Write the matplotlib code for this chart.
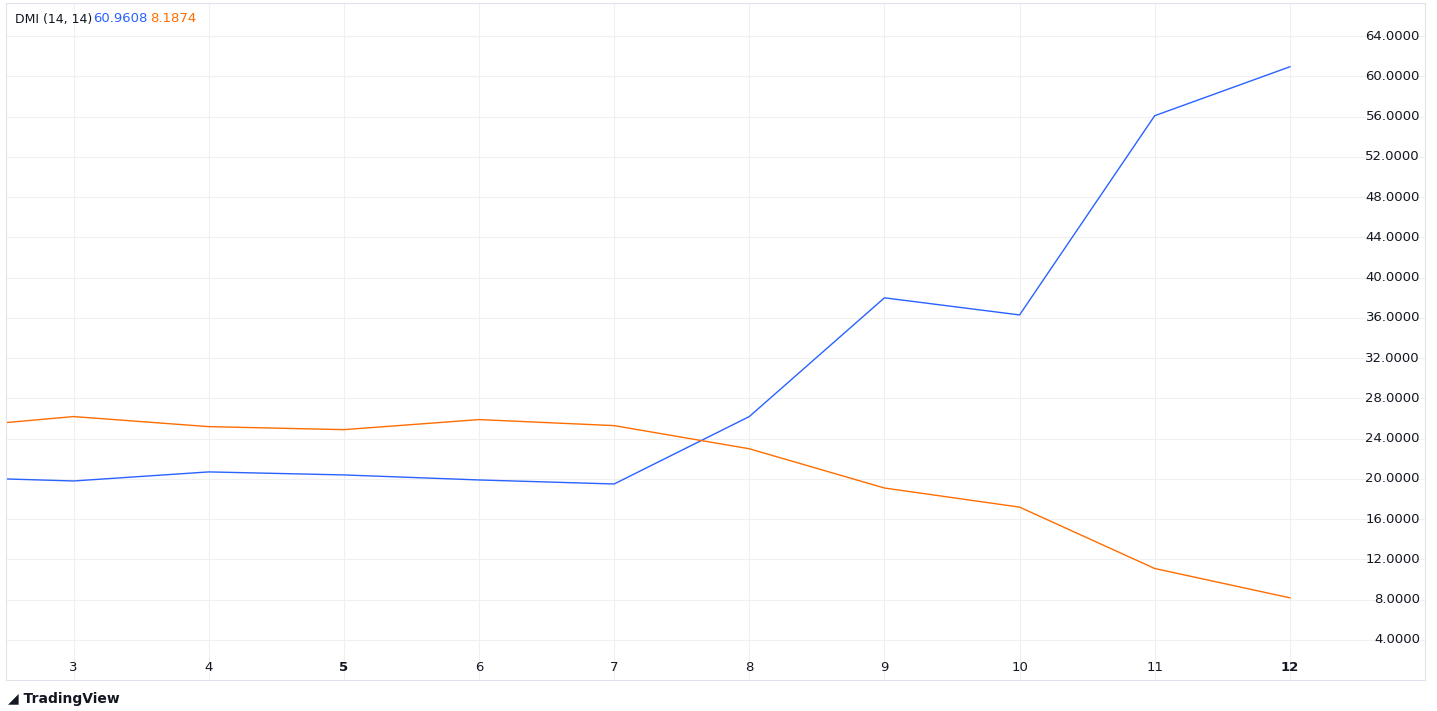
import matplotlib
matplotlib.use("Agg")
import matplotlib.pyplot as plt

x = [2, 3, 4, 5, 6, 7, 8, 9, 10, 11, 12]
plus_di = [20.2, 19.8, 20.7, 20.4, 19.9, 19.5, 26.2, 38.0, 36.3, 56.1, 60.9608]
minus_di = [25.0, 26.2, 25.2, 24.9, 25.9, 25.3, 23.0, 19.1, 17.2, 11.1, 8.1874]
yticks = [4, 8, 12, 16, 20, 24, 28, 32, 36, 40, 44, 48, 52, 56, 60, 64]
xticks = [3, 4, 5, 6, 7, 8, 9, 10, 11, 12]

W, H = 1437, 711
fig = plt.figure(figsize=(W/100, H/100), dpi=100)
ax = fig.add_axes([6/W, 1-680/H, (1425-6)/W, 677/H])
ax.set_xlim(2.5, 13.0)
ax.set_ylim(0.02, 67.3)
for t in yticks:
    ax.axhline(t, color='#f0f0f0', lw=0.8, zorder=0)
for t in xticks:
    ax.axvline(t, color='#f0f0f0', lw=0.8, zorder=0)
ax.plot(x, plus_di, color='#2962ff', lw=1)
ax.plot(x, minus_di, color='#ff6d00', lw=1)
ax.set_xticks([])
ax.set_yticks([])
for s in ax.spines.values():
    s.set_color('#e0e3eb')
trans = ax.get_yaxis_transform()
for t in yticks:
    ax.text((1420-6)/(1425-6), t, f"{t:.4f}", va='center', ha='right', fontsize=9.5,
            color='#131722', transform=trans)
for t in xticks:
    ax.text(t, 1.3, str(t), ha='center', va='center', fontsize=9.5, color='#131722',
            fontweight='bold' if t in (5, 12) else 'normal')
fig.text(15/W, 1-19/H, "DMI (14, 14)", fontsize=9, color='#131722', va='center')
fig.text(93/W, 1-19/H, "60.9608", fontsize=9.5, color='#2962ff', va='center')
fig.text(150/W, 1-19/H, "8.1874", fontsize=9.5, color='#ff6d00', va='center')
fig.text(8/W, 1-699/H, "\u25E2 TradingView", fontsize=10, fontweight='bold', color='#131722', va='center')
fig.savefig("out.png", dpi=100)
